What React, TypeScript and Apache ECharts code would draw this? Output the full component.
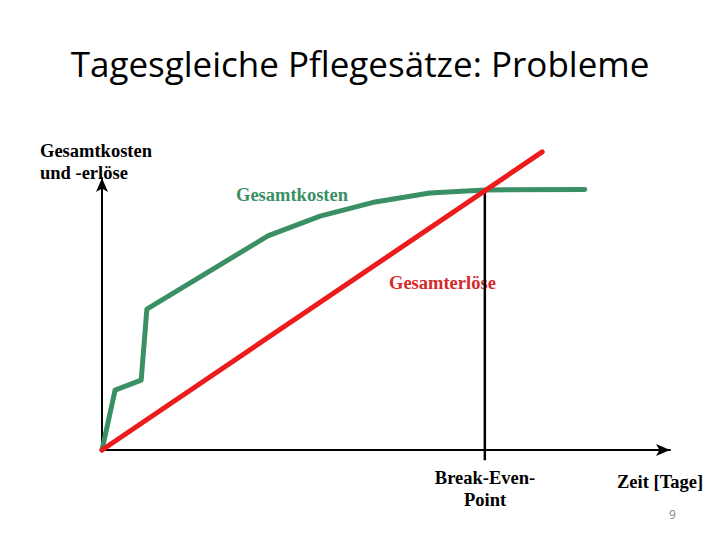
import React, { useEffect, useRef } from "react";
import * as echarts from "echarts";

// Gesamtkosten (total costs) – piecewise curve, [Tage, Wert]
const costX = [0, 2.3, 6.9, 7.9, 29.2, 38.4, 48.1, 57.7, 67.4, 85];
const costY = [0, 22, 25.7, 51.8, 78.7, 86, 91.2, 94.5, 95.6, 95.8];
// Gesamterlöse (total revenues) – straight line
const revenueX = [0, 77.5];
const revenueY = [0, 109.6];
// Break-even point
const breakEvenX = [67.4, 67.4];
const breakEvenY = [95.6, -3.8];

const title = "Tagesgleiche Pflegesätze: Probleme";
const yAxisName = "Gesamtkosten\nund -erlöse";
const xAxisName = "Zeit [Tage]";
const costLabel = "Gesamtkosten";
const revenueLabel = "Gesamterlöse";
const bepLabel = "Break-Even-\nPoint";
const pageNumber = "9";

const GREEN = "#3a9064";
const RED = "#ec1c1c";
const SERIF = "'Liberation Serif', 'Times New Roman', serif";

export default function App() {
  const ref = useRef<HTMLDivElement>(null);
  useEffect(() => {
    if (!ref.current) return;
    const chart = echarts.init(ref.current, null, { renderer: "svg" });
    const zip = (xs: number[], ys: number[]) => xs.map((x, i) => [x, ys[i]]);
    chart.setOption({
      animation: false,
      backgroundColor: "#ffffff",
      grid: { left: 102, right: 50, top: 178, bottom: 90 },
      xAxis: {
        type: "value",
        min: 0,
        max: 100,
        axisLine: {
          show: true,
          onZero: false,
          symbol: ["none", "arrow"],
          symbolSize: [9, 14],
          lineStyle: { color: "#000", width: 2 },
        },
        axisTick: { show: false },
        axisLabel: { show: false },
        splitLine: { show: false },
      },
      yAxis: {
        type: "value",
        min: 0,
        max: 100,
        axisLine: {
          show: true,
          onZero: false,
          symbol: ["none", "arrow"],
          symbolSize: [9, 14],
          lineStyle: { color: "#000", width: 2 },
        },
        axisTick: { show: false },
        axisLabel: { show: false },
        splitLine: { show: false },
      },
      series: [
        {
          name: "Break-Even",
          type: "line",
          data: zip(breakEvenX, breakEvenY),
          clip: false,
          symbol: "none",
          lineStyle: { color: "#000", width: 2.5 },
          z: 1,
        },
        {
          name: costLabel,
          type: "line",
          data: zip(costX, costY),
          clip: false,
          symbol: "none",
          lineStyle: { color: GREEN, width: 5, join: "round", cap: "round" },
          z: 2,
        },
        {
          name: revenueLabel,
          type: "line",
          data: zip(revenueX, revenueY),
          clip: false,
          symbol: "none",
          lineStyle: { color: RED, width: 5, cap: "round" },
          z: 3,
        },
      ],
      graphic: [
        {
          type: "text",
          x: 360,
          y: 46,
          style: {
            text: title,
            font: "35px 'Open Sans', 'Noto Sans', sans-serif",
            fill: "#000",
            textAlign: "center",
          },
        },
        {
          type: "text",
          x: 40,
          y: 140,
          style: {
            text: yAxisName,
            font: `bold 18.5px ${SERIF}`,
            fill: "#000",
            lineHeight: 22,
          },
        },
        {
          type: "text",
          x: 236,
          y: 185,
          style: { text: costLabel, font: `bold 18.5px ${SERIF}`, fill: GREEN },
        },
        {
          type: "text",
          x: 389,
          y: 273,
          style: { text: revenueLabel, font: `bold 18.5px ${SERIF}`, fill: "#d42a2a" },
        },
        {
          type: "text",
          x: 485,
          y: 467,
          style: {
            text: bepLabel,
            font: `bold 18.5px ${SERIF}`,
            fill: "#000",
            textAlign: "center",
            lineHeight: 22,
          },
        },
        {
          type: "text",
          x: 617,
          y: 472,
          style: { text: xAxisName, font: `bold 18.5px ${SERIF}`, fill: "#000" },
        },
        {
          type: "text",
          x: 669,
          y: 508,
          style: { text: pageNumber, font: "12px 'Open Sans', sans-serif", fill: "#888" },
        },
      ],
    });
    return () => chart.dispose();
  }, []);
  return (
    <div
      ref={ref}
      style={{ position: "fixed", left: 0, top: 0, width: 720, height: 540, background: "#fff" }}
    />
  );
}
